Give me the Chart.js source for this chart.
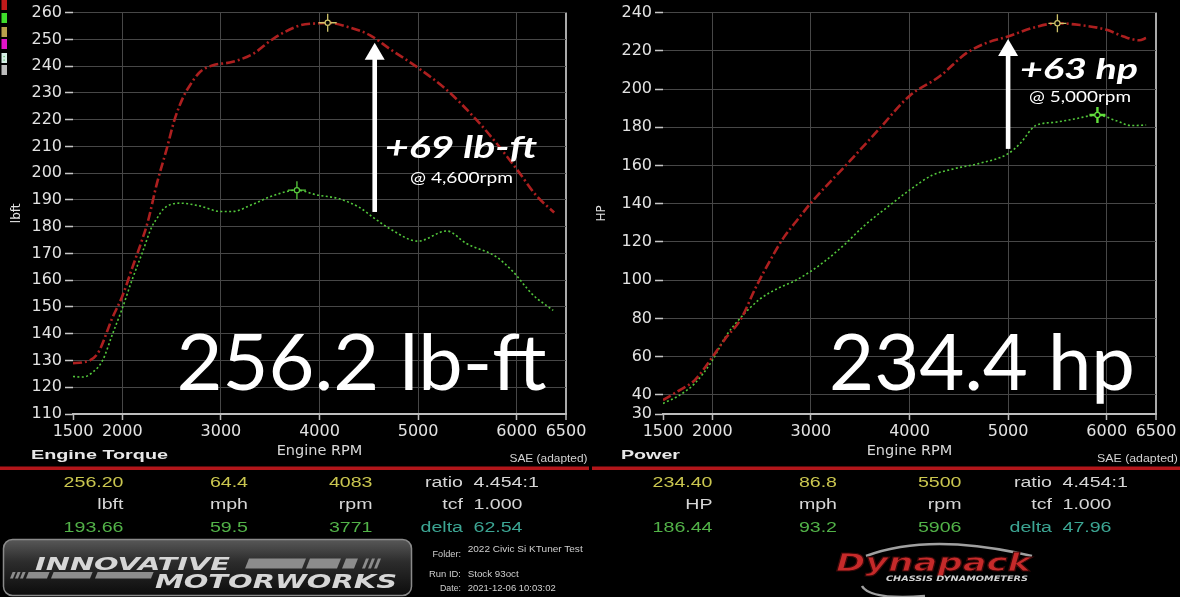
<!DOCTYPE html>
<html>
<head>
<meta charset="utf-8">
<title>Dyno - Engine Torque / Power</title>
<script src="https://cdn.jsdelivr.net/npm/chart.js@4.4.1/dist/chart.umd.min.js"></script>
<style>
    html, body { margin: 0; padding: 0; background: #000; }
    #page { position: relative; width: 1180px; height: 597px; background: #000; overflow: hidden; }
    .plot { position: absolute; top: 0; width: 590px; height: 470px; }
    #torqueChart { left: 0; }
    #powerChart { left: 590px; }
    #overlay { position: absolute; left: 0; top: 0; pointer-events: none; }
</style>
</head>
<body>
<div id="page">
    <canvas id="torqueChart" class="plot" width="590" height="470"></canvas>
    <canvas id="powerChart" class="plot" width="590" height="470"></canvas>
    <svg id="overlay" width="1180" height="597" xmlns="http://www.w3.org/2000/svg">
        <defs>
            <linearGradient id="imGrad" x1="0" y1="0" x2="0" y2="1">
                <stop offset="0" stop-color="#585858"/>
                <stop offset="0.4" stop-color="#2c2c2c"/>
                <stop offset="1" stop-color="#0c0c0c"/>
            </linearGradient>
        </defs>
    </svg>
</div>
<script>
// ---- data ----
const rpmTicks = [1500, 2000, 3000, 4000, 5000, 6000, 6500];
const torqueTicks = [110, 120, 130, 140, 150, 160, 170, 180, 190, 200, 210, 220, 230, 240, 250, 260];
const powerTicks = [30, 40, 60, 80, 100, 120, 140, 160, 180, 200, 220, 240];

// torque, tuned run (red) and stock run (green)
const torqueRpmTuned = [1500, 1600, 1750, 1900, 2000, 2100, 2200, 2260, 2350, 2450, 2530, 2620, 2680, 2790, 2920, 3120, 3330, 3530, 3800, 4000, 4083, 4300, 4510, 4710, 5010, 5290, 5590, 5790, 6000, 6200, 6380];
const torqueTuned = [129, 129.3, 132.6, 146, 154, 164.5, 175, 182, 196, 209, 220, 228.6, 232.5, 237.9, 240.3, 241.6, 244.7, 250.2, 255.2, 256, 256.2, 254.5, 251.6, 246.5, 239.1, 231.1, 220, 211.4, 201.5, 191.6, 185.3];
const torqueRpmStock = [1500, 1600, 1700, 1800, 1900, 2000, 2100, 2200, 2300, 2350, 2420, 2580, 2790, 2990, 3120, 3330, 3530, 3771, 3970, 4200, 4400, 4550, 4710, 5000, 5290, 5490, 5790, 5960, 6160, 6370];
const torqueStock = [124, 123.8, 125.6, 130, 139.8, 149.5, 160.2, 170, 180, 183, 186.7, 188.8, 187.7, 185.7, 185.7, 188.5, 191.6, 193.66, 191.9, 190.4, 187.3, 183.3, 179.3, 174.6, 178.4, 173.7, 168.8, 163.3, 154.7, 148.7];

// power, tuned run (red) and stock run (green)
const powerRpmTuned = [1500, 1670, 1820, 2000, 2130, 2290, 2440, 2600, 2720, 2850, 3010, 3380, 3690, 4000, 4310, 4580, 4780, 5000, 5240, 5500, 5710, 6000, 6170, 6330, 6400];
const powerTuned = [37.3, 42.5, 47.6, 59.7, 69.3, 79.7, 96.1, 111.6, 122, 130.7, 141, 161.5, 179, 196.4, 206.8, 218.9, 224.1, 227.5, 231.9, 234.4, 233.6, 231, 227.5, 225.5, 226.7];
const powerRpmStock = [1500, 1670, 1820, 2000, 2130, 2290, 2480, 2680, 2830, 3000, 3140, 3340, 3530, 3760, 4000, 4230, 4460, 4700, 5000, 5120, 5280, 5470, 5670, 5906, 6100, 6250, 6400];
const powerStock = [35.5, 39.9, 45.9, 58, 70.1, 80.5, 90, 96.1, 99.5, 104.7, 109.9, 118.6, 128, 137.6, 147.1, 154.9, 158.4, 161, 166.2, 171.4, 180.9, 182.6, 184.3, 186.44, 183.4, 180.9, 181.2];

// cursor peaks [rpm, value] and gain arrows [rpm, from, to]
const torquePeakTuned = [4083, 256.2];
const torquePeakStock = [3771, 193.66];
const powerPeakTuned = [5500, 234.4];
const powerPeakStock = [5906, 186.44];
const torqueGainArrow = [4560, 185.5, 248.7];
const powerGainArrow = [5000, 168.7, 226.2];

// readout tables under each graph
const torqueReadout = [
    ['256.20', '64.4', '4083', 'ratio', '4.454:1'],
    ['lbft', 'mph', 'rpm', 'tcf', '1.000'],
    ['193.66', '59.5', '3771', 'delta', '62.54']
];
const powerReadout = [
    ['234.40', '86.8', '5500', 'ratio', '4.454:1'],
    ['HP', 'mph', 'rpm', 'tcf', '1.000'],
    ['186.44', '93.2', '5906', 'delta', '47.96']
];

const toPoints = (xs, ys) => xs.map((x, i) => ({ x, y: ys[i] }));

// crosshair cursors + white gain arrow, drawn in data space
const dynoMarks = {
    id: 'dynoMarks',
    afterDatasetsDraw(chart, args, opts) {
        const { ctx } = chart;
        const xs = chart.scales.x, ys = chart.scales.y;
        ctx.save();

        if (opts.arrow) {
            const [rpm, from, to] = opts.arrow;
            const ax = xs.getPixelForValue(rpm);
            const tip = ys.getPixelForValue(to);
            const tail = ys.getPixelForValue(from);
            ctx.fillStyle = '#ffffff';
            ctx.fillRect(ax - 2.3, tip + 15, 4.6, tail - tip - 15);
            ctx.beginPath();
            ctx.moveTo(ax, tip);
            ctx.lineTo(ax + 10, tip + 17);
            ctx.lineTo(ax - 10, tip + 17);
            ctx.closePath();
            ctx.fill();
        }

        (opts.cursors || []).forEach(c => {
            const px = xs.getPixelForValue(c.at[0]);
            const py = ys.getPixelForValue(c.at[1]);
            ctx.strokeStyle = c.color;
            ctx.lineWidth = c.width;
            ctx.beginPath();
            ctx.moveTo(px - c.size, py); ctx.lineTo(px + c.size, py);
            ctx.moveTo(px, py - c.size); ctx.lineTo(px, py + c.size);
            ctx.stroke();
            ctx.fillStyle = '#000';
            ctx.lineWidth = 1.2;
            ctx.beginPath();
            ctx.arc(px, py, 2.6, 0, Math.PI * 2);
            ctx.fill();
            ctx.stroke();
        });
        ctx.restore();
    }
};

function buildDynoChart(canvasId, cfg) {
    const tickFont = { family: 'DejaVu Sans', size: 16 };
    return new Chart(document.getElementById(canvasId), {
        type: 'line',
        data: {
            datasets: [
                {
                    data: cfg.tuned,
                    borderColor: '#ad1f1f',
                    borderWidth: 2.6,
                    borderDash: [9, 3, 2, 3],
                    pointRadius: 0,
                    cubicInterpolationMode: 'monotone'
                },
                {
                    data: cfg.stock,
                    borderColor: '#52c63b',
                    borderWidth: 1.6,
                    borderDash: [2, 2.4],
                    pointRadius: 0,
                    cubicInterpolationMode: 'monotone'
                }
            ]
        },
        options: {
            responsive: false,
            animation: false,
            devicePixelRatio: 1,
            layout: { padding: { top: 9, right: 24, left: 0, bottom: 0 } },
            plugins: {
                legend: { display: false },
                tooltip: { enabled: false },
                dynoMarks: { arrow: cfg.arrow, cursors: cfg.cursors }
            },
            scales: {
                x: {
                    type: 'linear',
                    min: 1500,
                    max: 6500,
                    afterBuildTicks: s => { s.ticks = rpmTicks.map(v => ({ value: v })); },
                    afterFit: s => { s.height = 56; },
                    grid: {
                        color: c => c.tick && c.tick.value === 6500 ? '#a9a9a9' : (c.tick && c.tick.value === 1500 ? 'rgba(0,0,0,0)' : '#474747'),
                        lineWidth: c => c.tick && c.tick.value === 6500 ? 2 : 1,
                        tickColor: '#bdbdbd',
                        tickLength: 6,
                        tickWidth: 1.5
                    },
                    border: { color: '#bdbdbd', width: 2 },
                    ticks: {
                        color: '#e2e2e2',
                        font: tickFont,
                        padding: 2,
                        maxRotation: 0,
                        autoSkip: false,
                        callback: v => String(v)
                    },
                    title: {
                        display: true,
                        text: 'Engine RPM',
                        color: '#d8d8d8',
                        font: { family: 'DejaVu Sans', size: 14.5 },
                        padding: { top: 0, bottom: 10.5 }
                    }
                },
                y: {
                    min: cfg.min,
                    max: cfg.max,
                    afterBuildTicks: s => { s.ticks = cfg.ticks.map(v => ({ value: v })); },
                    afterFit: s => { s.width = 73; },
                    grid: { color: '#474747', tickColor: '#c8c8c8', tickLength: 8, tickWidth: 1.5 },
                    border: { display: false },
                    ticks: { color: '#e2e2e2', font: tickFont, padding: 3, autoSkip: false, callback: v => String(v) },
                    title: {
                        display: true,
                        text: cfg.yTitle,
                        color: '#e0e0e0',
                        font: { family: 'DejaVu Sans', size: 12 },
                        padding: { top: cfg.yTitlePad, bottom: 0 }
                    }
                }
            }
        },
        plugins: [dynoMarks]
    });
}

buildDynoChart('torqueChart', {
    tuned: toPoints(torqueRpmTuned, torqueTuned),
    stock: toPoints(torqueRpmStock, torqueStock),
    ticks: torqueTicks, min: 110, max: 260,
    yTitle: 'lbft', yTitlePad: 10,
    arrow: torqueGainArrow,
    cursors: [
        { at: torquePeakTuned, color: '#cfc36a', size: 9, width: 1.3 },
        { at: torquePeakStock, color: '#58cc3e', size: 9, width: 1.3 }
    ]
});

buildDynoChart('powerChart', {
    tuned: toPoints(powerRpmTuned, powerTuned),
    stock: toPoints(powerRpmStock, powerStock),
    ticks: powerTicks, min: 30, max: 240,
    yTitle: 'HP', yTitlePad: 5,
    arrow: powerGainArrow,
    cursors: [
        { at: powerPeakTuned, color: '#cfc36a', size: 9, width: 1.3 },
        { at: powerPeakStock, color: '#62e03c', size: 8, width: 2.4 }
    ]
});

// ---- svg overlay: captions, readouts, logos ----
const NS = 'http://www.w3.org/2000/svg';
const svg = document.getElementById('overlay');

function el(tag, attrs, text) {
    const node = document.createElementNS(NS, tag);
    Object.entries(attrs).forEach(([k, v]) => node.setAttribute(k, v));
    if (text !== undefined) node.textContent = text;
    svg.appendChild(node);
    return node;
}

function label(t, x, y, o) {
    const attrs = {
        'font-family': o.family || 'Liberation Sans, Arial, sans-serif',
        'font-size': o.size,
        fill: o.fill || '#dcdcdc'
    };
    if (o.weight) attrs['font-weight'] = o.weight;
    if (o.italic) attrs['font-style'] = 'italic';
    if (o.anchor) attrs['text-anchor'] = o.anchor;
    if (o.k) {
        attrs.transform = `translate(${x} ${y}) scale(${o.k} 1)`;
    } else {
        attrs.x = x;
        attrs.y = y;
    }
    if (o.w) {
        attrs.textLength = o.w;
        attrs.lengthAdjust = 'spacingAndGlyphs';
    }
    return el('text', attrs, t);
}

// legend swatches at the top-left edge
[['#c11a1a', 0], ['#3fdc2b', 13], ['#b9a14b', 27], ['#e214c8', 39], ['#d6efe6', 53], ['#bdbdbd', 65]].forEach(([c, y]) => {
    el('rect', { x: 1.5, y: y, width: 5.5, height: 10, fill: c });
});
el('rect', { x: 3.5, y: 56, width: 1.2, height: 1.2, fill: '#4caf50' });
el('rect', { x: 3.5, y: 59.5, width: 1.2, height: 1.2, fill: '#4caf50' });

// big callouts
label('256.2 lb-ft', 176.5, 390, { family: 'Lato, sans-serif', size: 77, fill: '#ffffff', w: 370 });
label('234.4 hp', 829, 390, { family: 'Lato, sans-serif', size: 77, fill: '#ffffff', w: 306 });
label('+69 lb-ft', 385, 158.3, { family: 'Lato, sans-serif', size: 30, weight: 'bold', italic: true, fill: '#ffffff', w: 152 });
label('@ 4,600rpm', 410, 182.7, { family: 'Lato, sans-serif', size: 15.5, fill: '#ffffff', w: 103 });
label('+63 hp', 1020, 79.3, { family: 'Lato, sans-serif', size: 29, weight: 'bold', italic: true, fill: '#ffffff', w: 118 });
label('@ 5,000rpm', 1029, 101.7, { family: 'Lato, sans-serif', size: 15.5, fill: '#ffffff', w: 102 });

// panel headers
label('Engine Torque', 31, 459, { size: 13, weight: 'bold', fill: '#e8e8e8', w: 137 });
label('SAE (adapted)', 509.5, 461.5, { size: 10, fill: '#d2d2d2', w: 78 });
label('Power', 621, 459, { size: 13, weight: 'bold', fill: '#e8e8e8', w: 59 });
label('SAE (adapted)', 1097, 461.5, { size: 10, fill: '#d2d2d2', w: 81 });

// red separator
el('rect', { x: 0, y: 466.5, width: 589, height: 3.5, fill: '#b3161a' });
el('rect', { x: 592, y: 466.5, width: 588, height: 3.5, fill: '#b3161a' });

// readout tables
const colX = [123.5, 248, 372.5, 463, 473.5];
const rowY = [487, 508.5, 531.7];
const rowFill = [
    ['#cac64f', '#cac64f', '#cac64f', '#d6d6d6', '#d6d6d6'],
    ['#d6d6d6', '#d6d6d6', '#d6d6d6', '#d6d6d6', '#d6d6d6'],
    ['#52b248', '#52b248', '#52b248', '#3ca593', '#3ca593']
];
function readout(rows, dx) {
    rows.forEach((row, r) => row.forEach((t, c) => {
        label(t, colX[c] + dx, rowY[r], { size: 14, k: 1.4, fill: rowFill[r][c], anchor: c === 4 ? 'start' : 'end' });
    }));
}
readout(torqueReadout, 0);
readout(powerReadout, 589);

// run info
const infoFont = { family: 'Liberation Sans Narrow, Liberation Sans, Arial, sans-serif', size: 9.5, fill: '#cfcfcf' };
label('Folder:', 432.5, 557, { ...infoFont, w: 28.5 });
label('2022 Civic Si KTuner Test', 467.7, 551.5, { ...infoFont, w: 115 });
label('Run ID:', 429, 576.5, { ...infoFont, w: 32 });
label('Stock 93oct', 467.7, 576.5, { ...infoFont, w: 51 });
label('Date:', 440, 590.5, { ...infoFont, w: 21 });
label('2021-12-06 10:03:02', 467.7, 590.5, { ...infoFont, w: 88 });

// Innovative Motorworks badge
el('rect', { x: 3.5, y: 539.5, width: 408, height: 56, rx: 9, fill: 'url(#imGrad)', stroke: '#8a8a8a', 'stroke-width': 1.5 });
function bar(x1, x2, y1, y2, fill) {
    const s = (y2 - y1) * 0.4;
    el('polygon', { points: `${x1 + s},${y1} ${x2 + s},${y1} ${x2},${y2} ${x1},${y2}`, fill: fill || '#8c8c8c' });
}
bar(245, 302, 558.5, 568.5); bar(306, 337, 558.5, 568.5); bar(342, 354, 558.5, 568.5);
bar(362, 365, 558.5, 568.5); bar(368, 371, 558.5, 568.5); bar(374, 377, 558.5, 568.5);
bar(10, 13, 572, 578.5); bar(15, 18, 572, 578.5); bar(20, 23, 572, 578.5);
bar(26, 47, 572, 578.5); bar(51, 90, 572, 578.5); bar(95, 151, 572, 578.5);
label('INNOVATIVE', 35, 569.5, { family: 'DejaVu Sans, sans-serif', size: 17, weight: 'bold', italic: true, fill: '#d6d6d6', w: 195 });
label('MOTORWORKS', 155, 588, { family: 'DejaVu Sans, sans-serif', size: 20, weight: 'bold', italic: true, fill: '#d6d6d6', w: 242 });

// Dynapack logo
el('path', { d: 'M 866 556 Q 930 532 1032 556', fill: 'none', stroke: '#a0a0a0', 'stroke-width': 2.5 });
el('path', { d: 'M 862 586 Q 870 600 925 596', fill: 'none', stroke: '#a0a0a0', 'stroke-width': 2.5 });
label('Dynapack', 836, 571, { family: 'DejaVu Sans, sans-serif', size: 25, weight: 900, italic: true, fill: '#c62a2a', w: 195 }).setAttribute('stroke', '#3a0808');
label('CHASSIS DYNAMOMETERS', 886, 581, { family: 'DejaVu Sans, sans-serif', size: 7.5, weight: 'bold', italic: true, fill: '#d0d0d0', w: 142 });
</script>
</body>
</html>
